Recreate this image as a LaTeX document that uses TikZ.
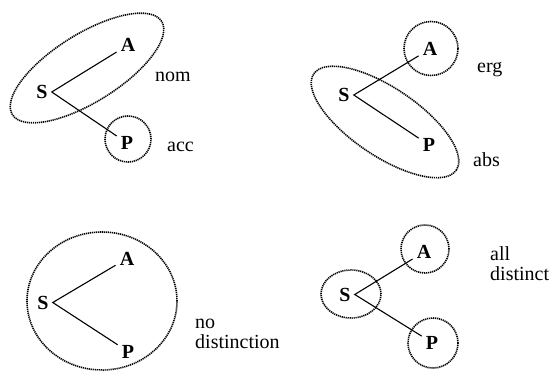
\documentclass[tikz,border=0pt]{standalone}
\usepackage{fontspec}
\setmainfont{Liberation Serif}
\begin{document}
\begin{tikzpicture}[x=1pt,y=1pt,
  role/.style={font=\fontsize{20}{22}\selectfont\bfseries, inner sep=4pt},
  lab/.style={font=\fontsize{20}{20}\selectfont, inner sep=0pt, anchor=base west, align=left},
  arm/.style={line width=1.1pt},
  grp/.style={line width=1.6pt, dash pattern=on 1.2pt off 0.8pt}]
\useasboundingbox (0,0) rectangle (553,372);
% panel 1: nominative-accusative
\node[role] (S1) at (42,280) {S};
\node[role] (A1) at (128,327) {A};
\node[role] (P1) at (127,229) {P};
\draw[arm] (A1) -- (S1.east) -- (P1);
\draw[grp] (87,304) ellipse [x radius=88, y radius=34, rotate=32];
\draw[grp] (128,233) circle [radius=23];
\node[lab] (nom) at (155,290) {nom};
\node[lab] (acc) at (167,220) {acc};
% panel 2: ergative-absolutive
\node[role] (S2) at (344,277) {S};
\node[role] (A2) at (430,323) {A};
\node[role] (P2) at (429,227) {P};
\draw[arm] (A2) -- (S2.east) -- (P2);
\draw[grp] (431,323.5) circle [radius=27];
\draw[grp] (385,250) ellipse [x radius=86, y radius=34, rotate=-34];
\node[lab] (erg) at (477,299) {erg};
\node[lab] (abs) at (473,205) {abs};
% panel 3: no distinction
\node[role] (S3) at (43,69.5) {S};
\node[role] (A3) at (127,113.5) {A};
\node[role] (P3) at (128,20.5) {P};
\draw[arm] (A3) -- (S3.east) -- (P3);
\draw[grp] (102,71) ellipse [x radius=75, y radius=69];
\node[lab] (nodist) at (195,24) {no\\distinction};
% panel 4: all distinct
\node[role] (S4) at (345,77.5) {S};
\node[role] (A4) at (424,120) {A};
\node[role] (P4) at (432,29.5) {P};
\draw[arm] (A4) -- (S4.east) -- (P4);
\draw[grp] (425,123) circle [radius=24];
\draw[grp] (351,78) ellipse [x radius=30, y radius=24];
\draw[grp] (433,29) circle [radius=25];
\node[lab] (alldist) at (490,92) {all\\distinct};
\end{tikzpicture}
\end{document}
